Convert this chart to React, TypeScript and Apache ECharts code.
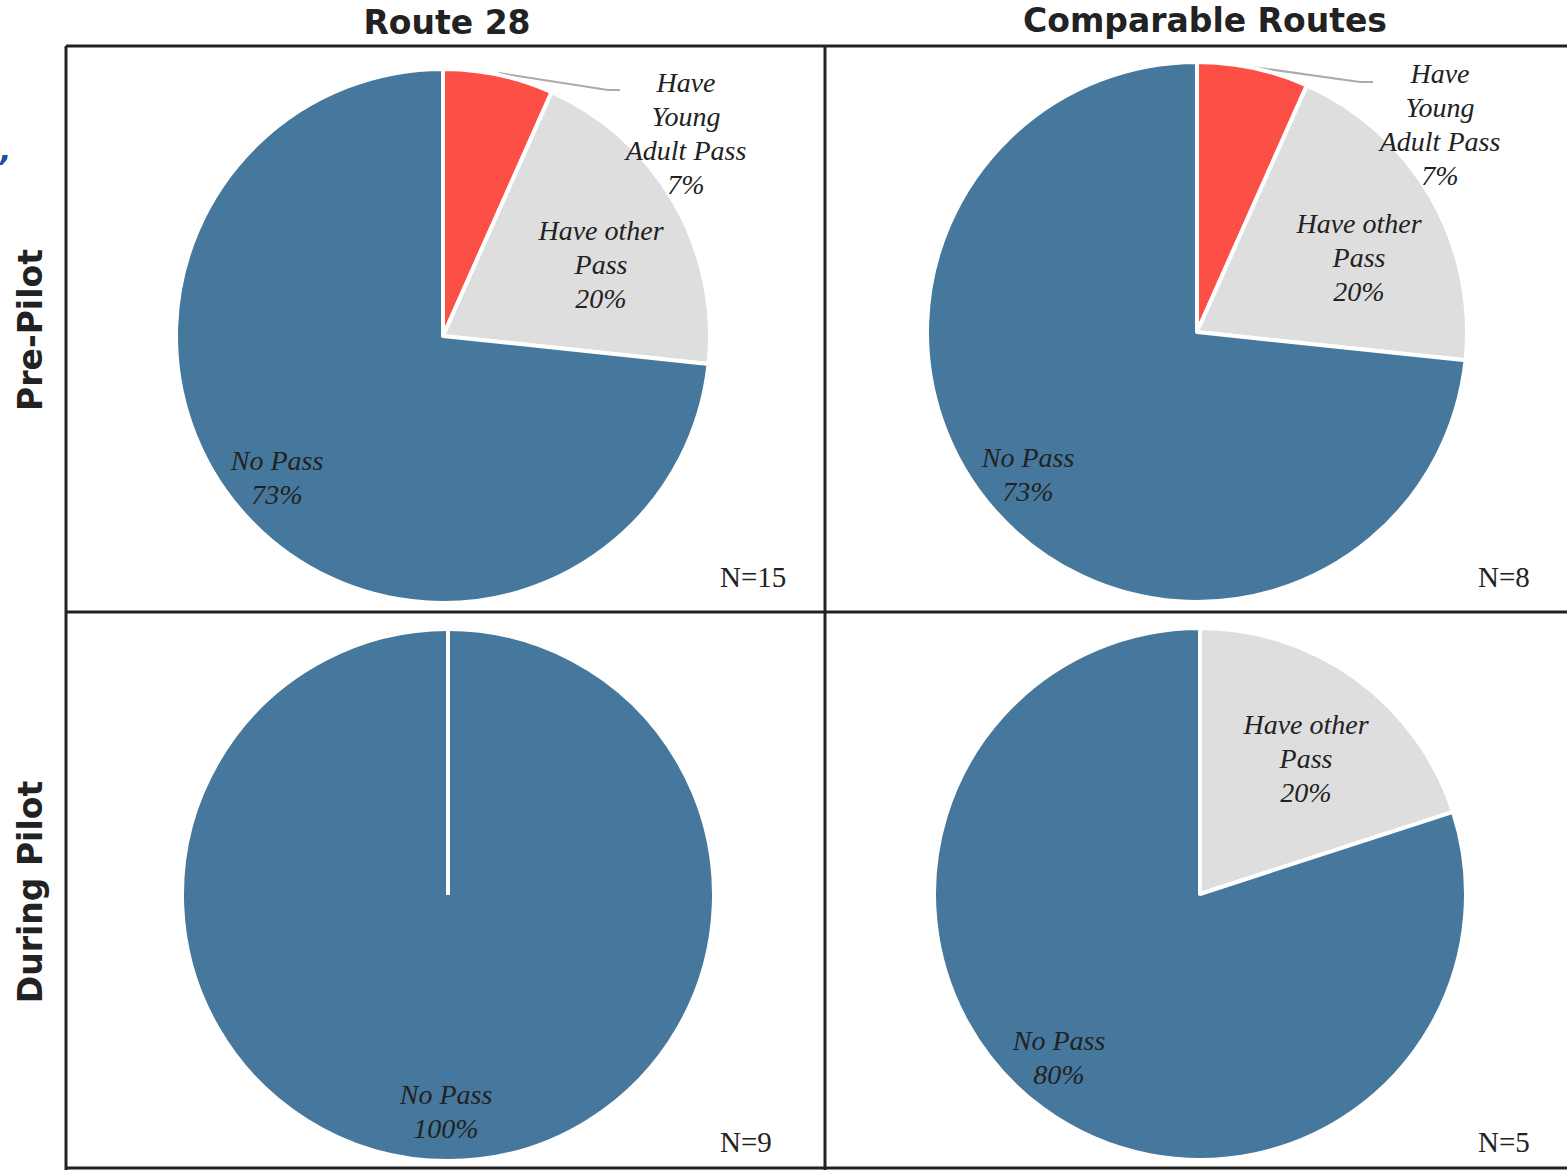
import React, { useEffect, useRef } from "react";
import * as echarts from "echarts";

// ---- data ----
const categories = ["Have Young Adult Pass", "Have other Pass", "No Pass"];
const categoryLabels = ["Have\nYoung\nAdult Pass", "Have other\nPass", "No Pass"];
const columnTitles = ["Route 28", "Comparable Routes"];
const rowTitles = ["Pre-Pilot", "During Pilot"];
// percent shares per panel
const route28Pre = [6.67, 20, 73.33];
const comparablePre = [6.67, 20, 73.33];
const route28During = [0, 0, 100];
const comparableDuring = [0, 20, 80];
const sampleSizes = ["N=15", "N=8", "N=9", "N=5"];

const panelValues = [route28Pre, comparablePre, route28During, comparableDuring];

// ---- styles / layout ----
const colors = ["#FC4F45", "#DEDEDE", "#46789D"];
const centers: [number, number][] = [
  [443, 336],
  [1197, 332],
  [448, 895],
  [1200, 894],
];
const radii = [267, 270, 266, 266];
// label offsets relative to pie centre, per panel per category
const labelOffsets: ([number, number] | null)[][] = [
  [[243, -203], [158, -72], [-166, 141]],
  [[243, -208], [162, -75], [-169, 142]],
  [null, null, [-2, 216]],
  [null, [106, -136], [-141, 163]],
];
// leader lines for the outside labels (relative to centre)
const leaderLines: (number[][] | null)[] = [
  [[56, -263], [165, -246], [177, -246]],
  [[56, -265], [163, -250], [176, -250]],
  null,
  null,
];
const nLabelPos: [number, number][] = [
  [720, 577],
  [1478, 577],
  [720, 1142],
  [1478, 1142],
];

const labelFont = "'Liberation Serif', 'DejaVu Serif', serif";
const headFont = "'DejaVu Sans', sans-serif";

export default function App() {
  const ref = useRef<HTMLDivElement>(null);
  useEffect(() => {
    if (!ref.current) return;
    const chart = echarts.init(ref.current, null, { renderer: "svg" });

    const series = panelValues.map((vals, p) => {
      const data = vals
        .map((v, i) => ({ v, i }))
        .filter((d) => d.v > 0)
        .map((d) => ({
          name: categories[d.i],
          value: d.v,
          catIndex: d.i,
          itemStyle: { color: colors[d.i] },
          label: {
            position: d.i === 0 && leaderLines[p] ? "outside" : "inside",
          },
          labelLine: { show: d.i === 0 && !!leaderLines[p] },
        }));
      return {
        type: "pie",
        center: centers[p],
        radius: [0, radii[p]],
        startAngle: 90,
        clockwise: true,
        percentPrecision: 0,
        avoidLabelOverlap: false,
        itemStyle: { borderColor: "#ffffff", borderWidth: 4 },
        label: {
          show: true,
          fontFamily: labelFont,
          fontStyle: "italic",
          fontSize: 28,
          lineHeight: 34,
          color: "#222222",
          align: "center",
          formatter: (params: any) =>
            `${categoryLabels[params.data.catIndex]}\n${Math.round(params.percent)}%`,
        },
        labelLine: {
          lineStyle: { color: "#AAAAAA", width: 2 },
        },
        emphasis: { disabled: true },
        labelLayout: (params: any) => {
          const item = data[params.dataIndex];
          const off = labelOffsets[p][item.catIndex];
          const c = centers[p];
          if (!off) return {};
          const res: any = {
            x: c[0] + off[0],
            y: c[1] + off[1],
            align: "center",
            verticalAlign: "middle",
          };
          if (item.catIndex === 0 && leaderLines[p]) {
            res.labelLinePoints = leaderLines[p]!.map((pt) => [c[0] + pt[0], c[1] + pt[1]]);
          }
          return res;
        },
        data,
      };
    });

    // white slice edge for single-slice (full circle) pies
    const fullCircleEdges = panelValues
      .map((vals, p) => ({ p, n: vals.filter((v) => v > 0).length }))
      .filter((d) => d.n === 1)
      .map((d) => ({
        type: "line",
        z: 10,
        shape: {
          x1: centers[d.p][0],
          y1: centers[d.p][1],
          x2: centers[d.p][0],
          y2: centers[d.p][1] - radii[d.p],
        },
        style: { stroke: "#ffffff", lineWidth: 4 },
      }));

    const lineStyle = { stroke: "#222222", lineWidth: 3 };
    const headStyle = (text: string) => ({
      text,
      font: `bold 33px ${headFont}`,
      fill: "#222222",
      align: "center",
      verticalAlign: "middle",
    });
    const graphic: any[] = [
      { type: "line", shape: { x1: 66, y1: 46, x2: 1567, y2: 46 }, style: lineStyle },
      { type: "line", shape: { x1: 66, y1: 612, x2: 1567, y2: 612 }, style: lineStyle },
      { type: "line", shape: { x1: 66, y1: 1168, x2: 1567, y2: 1168 }, style: lineStyle },
      { type: "line", shape: { x1: 66, y1: 46, x2: 66, y2: 1170 }, style: lineStyle },
      { type: "line", shape: { x1: 825, y1: 46, x2: 825, y2: 1170 }, style: lineStyle },
      ...fullCircleEdges,
      { type: "text", x: 447, y: 22, style: headStyle(columnTitles[0]) },
      { type: "text", x: 1205, y: 20, style: headStyle(columnTitles[1]) },
      { type: "text", x: 30, y: 330, rotation: Math.PI / 2, style: headStyle(rowTitles[0]) },
      { type: "text", x: 30, y: 892, rotation: Math.PI / 2, style: headStyle(rowTitles[1]) },
      {
        type: "text",
        x: 0,
        y: 150,
        style: {
          text: ",",
          font: `bold italic 30px ${headFont}`,
          fill: "#1F4E9C",
          align: "left",
          verticalAlign: "middle",
        },
      },
      ...sampleSizes.map((s, i) => ({
        type: "text",
        x: nLabelPos[i][0],
        y: nLabelPos[i][1],
        style: {
          text: s,
          font: `29px ${labelFont}`,
          fill: "#222222",
          align: "left",
          verticalAlign: "middle",
        },
      })),
    ];

    chart.setOption({
      animation: false,
      backgroundColor: "#ffffff",
      series,
      graphic,
    });
    return () => chart.dispose();
  }, []);

  return (
    <div
      ref={ref}
      style={{ position: "fixed", left: 0, top: 0, width: 1567, height: 1171 }}
    />
  );
}
